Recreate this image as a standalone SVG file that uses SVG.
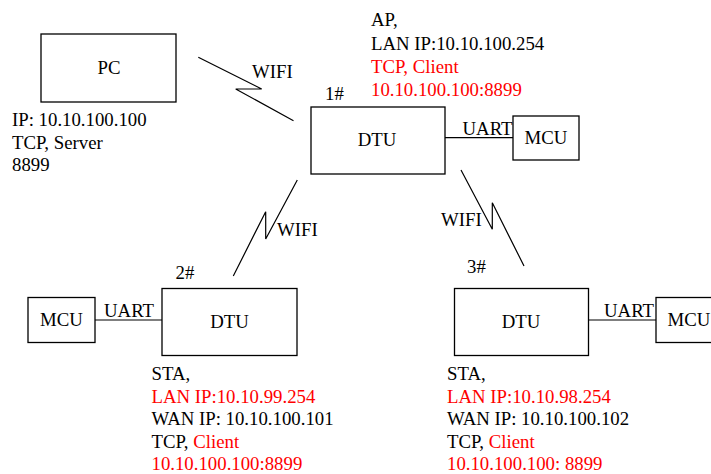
<svg xmlns="http://www.w3.org/2000/svg" width="711" height="474" viewBox="0 0 711 474">
<style>
text{font-family:"Liberation Serif","Times New Roman",serif;font-size:18.8px;fill:#000}
.r{fill:#ff0000}
.c{text-anchor:middle}
.box{fill:#fff;stroke:#000;stroke-width:1.3}
.ln{fill:none;stroke:#000;stroke-width:1.2}
</style>
<rect width="711" height="474" fill="#fff"/>
<g id="connectors">
<polyline class="ln" points="198.3,57.3 261.7,89 235.7,89 293.5,120.7"/>
<polyline class="ln" points="297.3,180 265.7,239 265.7,211.7 233.3,276"/>
<polyline class="ln" points="461,170 492.3,229.3 492.3,202.7 524,266"/>
<line class="ln" x1="445" y1="137.7" x2="513" y2="137.7"/>
<line class="ln" x1="95" y1="320" x2="162" y2="320"/>
<line class="ln" x1="588.5" y1="320" x2="656" y2="320"/>
<text x="252" y="78">WIFI</text>
<text x="277" y="236">WIFI</text>
<text x="441" y="226">WIFI</text>
<text x="462.5" y="135">UART</text>
<text x="104" y="317">UART</text>
<text x="604" y="317">UART</text>
</g>
<g id="pc">
<rect class="box" x="41" y="34" width="135" height="68"/>
<text class="c" x="109" y="74">PC</text>
<text x="12" y="126">IP: 10.10.100.100</text>
<text x="12" y="148.5">TCP, Server</text>
<text x="12" y="171">8899</text>
</g>
<g id="dtu1">
<rect class="box" x="311" y="107" width="134" height="67"/>
<text class="c" x="377" y="146">DTU</text>
<text x="325" y="100">1#</text>
<text x="371" y="26">AP,</text>
<text x="371" y="49.5">LAN IP:10.10.100.254</text>
<text class="r" x="371" y="72.5">TCP, Client</text>
<text class="r" x="371" y="95.5">10.10.100.100:8899</text>
</g>
<g id="mcu1">
<rect class="box" x="513" y="116" width="66" height="44"/>
<text class="c" x="546" y="144">MCU</text>
</g>
<g id="dtu2">
<rect class="box" x="162" y="288.5" width="135" height="67"/>
<text class="c" x="229.5" y="327.5">DTU</text>
<text x="175.5" y="279">2#</text>
<text x="151.5" y="380">STA,</text>
<text class="r" x="151.5" y="402.5">LAN IP:10.10.99.254</text>
<text x="151.5" y="425">WAN IP: 10.10.100.101</text>
<text x="151.5" y="447.5">TCP, <tspan class="r">Client</tspan></text>
<text class="r" x="151.5" y="470">10.10.100.100:8899</text>
</g>
<g id="mcu2">
<rect class="box" x="28" y="297.5" width="67" height="45"/>
<text class="c" x="61.5" y="326">MCU</text>
</g>
<g id="dtu3">
<rect class="box" x="454.5" y="288.5" width="134" height="67"/>
<text class="c" x="521" y="327.5">DTU</text>
<text x="467" y="273">3#</text>
<text x="447" y="380">STA,</text>
<text class="r" x="447" y="402.5">LAN IP:10.10.98.254</text>
<text x="447" y="425">WAN IP: 10.10.100.102</text>
<text x="447" y="447.5">TCP, <tspan class="r">Client</tspan></text>
<text class="r" x="447" y="470">10.10.100.100: 8899</text>
</g>
<g id="mcu3">
<rect class="box" x="656" y="297.5" width="67" height="45"/>
<text x="667.5" y="326">MCU</text>
</g>
</svg>
